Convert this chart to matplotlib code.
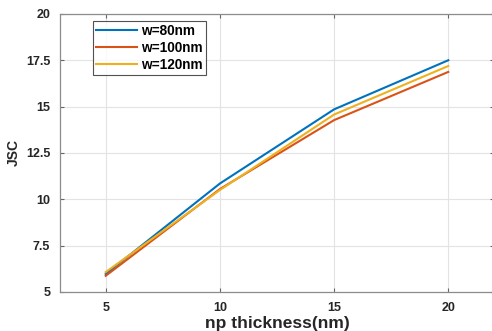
import matplotlib.pyplot as plt

# data
thickness = [5, 10, 15, 20]
jsc_w80 = [5.97, 10.85, 14.85, 17.5]
jsc_w100 = [5.87, 10.55, 14.27, 16.87]
jsc_w120 = [6.07, 10.5, 14.57, 17.19]
labels = ["w=80nm", "w=100nm", "w=120nm"]
colors = ["#0072BD", "#D95319", "#EDB120"]

plt.rcParams["font.family"] = ["Liberation Sans", "DejaVu Sans"]
plt.rcParams["font.weight"] = "bold"

fig = plt.figure(figsize=(4.92, 3.31), dpi=100)
ax = fig.add_axes([0.122, 0.118, 0.882, 0.84])

for ys, lab, c in zip([jsc_w80, jsc_w100, jsc_w120], labels, colors):
    ax.plot(thickness, ys, color=c, linewidth=1.5, label=lab)

ax.set_xlim(3, 22)
ax.set_ylim(5, 20)
ax.set_xticks([5, 10, 15, 20])
ax.set_yticks([5, 7.5, 10, 12.5, 15, 17.5, 20])
ax.set_yticklabels(["5", "7.5", "10", "12.5", "15", "17.5", "20"])

ax.grid(True, color="#e3e3e3", linewidth=0.8)
ax.set_axisbelow(True)
for s in ax.spines.values():
    s.set_color("#8c8c8c")
    s.set_linewidth(0.9)
ax.tick_params(direction="in", top=True, right=True, length=3,
               color="#666666", labelsize=9, labelcolor="#262626")
ax.tick_params(axis="x", pad=7)
ax.tick_params(axis="y", pad=7)

ax.set_xlabel("np thickness(nm)", fontsize=12.5, fontweight="bold",
              color="#262626", labelpad=2)
ax.set_ylabel("JSC", fontsize=10, fontweight="bold", color="#262626",
              labelpad=4)

leg = ax.legend(loc="upper left", bbox_to_anchor=(0.076, 0.975),
                fontsize=9.8, frameon=True, fancybox=False,
                edgecolor="#262626", handlelength=3.0, handletextpad=0.3,
                borderpad=0.25, labelspacing=0.2, borderaxespad=0)
leg.get_frame().set_linewidth(0.8)
for t in leg.get_texts():
    t.set_fontweight("bold")

fig.savefig("out.png", dpi=100)
